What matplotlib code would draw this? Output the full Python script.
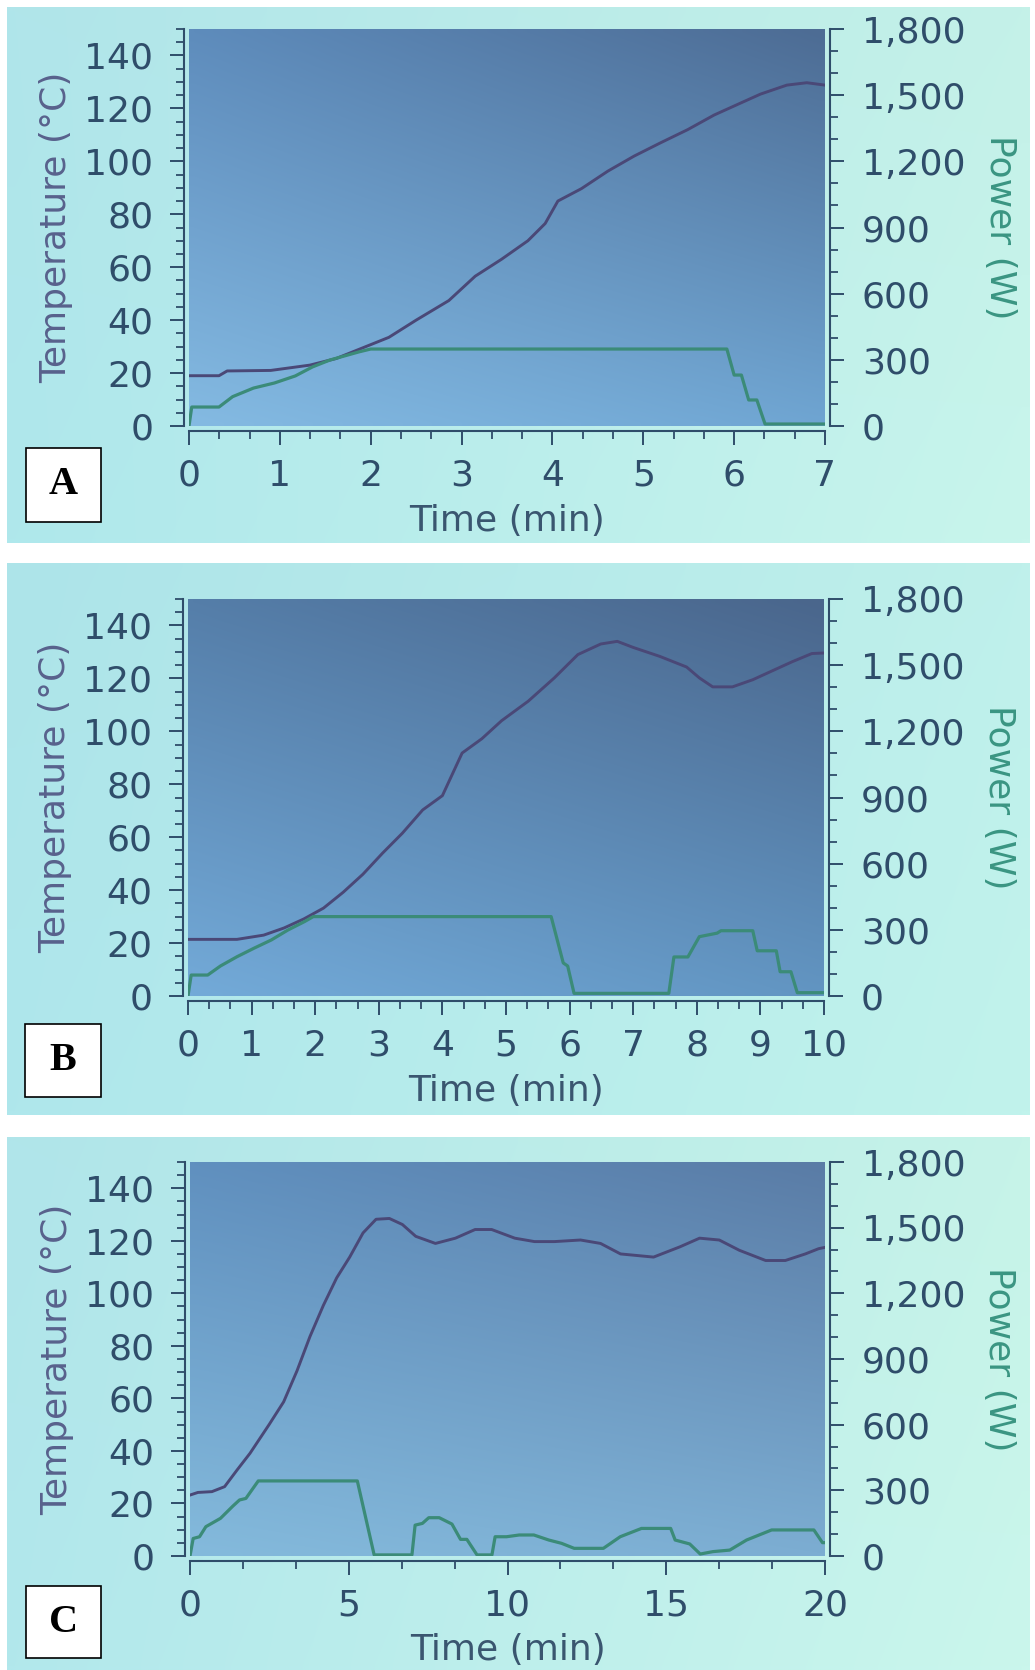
import matplotlib.pyplot as plt
import numpy as np
from matplotlib.colors import to_rgb
from matplotlib.patches import Rectangle
from matplotlib.ticker import MultipleLocator, StrMethodFormatter

# panel A (7 min run)
tA_temp = [0, 0.33, 0.42, 0.9, 1.33, 1.62, 1.91, 2.2, 2.5, 2.86, 3.15, 3.44, 3.73, 3.92, 4.06,
           4.32, 4.61, 4.9, 5.19, 5.49, 5.78, 6.07, 6.29, 6.58, 6.8, 7.0]
tempA = [19.0, 19.0, 20.8, 21, 23, 25.5, 29.5, 33.5, 40, 47.4, 56.6, 63, 70, 76.5, 85,
         89.7, 96.3, 102, 107, 112, 117.5, 122, 125.4, 128.8, 129.7, 128.8]
tA_pow = [0, 0.03, 0.33, 0.48, 0.71, 0.94, 1.17, 1.36, 1.55, 1.87, 2.0, 5.92, 6.0, 6.08,
          6.16, 6.25, 6.34, 7.0]
powA = [0, 86, 86, 133, 172, 195, 227, 268, 299, 336, 349, 349, 231, 231, 118, 118, 9, 9]

# panel B (10 min run)
tB_temp = [0, 0.77, 1.19, 1.51, 1.82, 2.13, 2.44, 2.75, 3.06, 3.37, 3.69, 4.0, 4.31, 4.62,
           4.93, 5.35, 5.76, 6.13, 6.49, 6.75, 7.0, 7.42, 7.84, 8.04, 8.25, 8.56, 8.88,
           9.19, 9.5, 9.81, 10.0]
tempB = [21.4, 21.4, 23.0, 25.7, 29.1, 33.2, 39.2, 46, 54, 61.5, 70.3, 75.7, 91.8, 97.2,
         104, 111.4, 120.2, 129, 133, 134, 131.7, 128.3, 124.3, 120.2, 116.8, 116.8, 119.5,
         122.9, 126.3, 129.4, 129.6]
tB_pow = [0, 0.05, 0.31, 0.51, 0.77, 1.04, 1.31, 1.57, 1.83, 1.97, 5.71, 5.9, 5.97, 6.07,
          7.56, 7.64, 7.86, 8.04, 8.32, 8.38, 8.88, 8.95, 9.25, 9.31, 9.48, 9.58, 10.0]
powB = [0, 95, 95, 136, 178, 217, 254, 299, 337, 360, 360, 150, 136, 12, 12, 177, 177, 269,
        285, 296, 296, 205, 205, 110, 110, 15, 15]

# panel C (20 min run)
tC_temp = [0, 0.25, 0.69, 1.09, 1.48, 1.89, 2.49, 2.95, 3.37, 3.78, 4.2, 4.62, 5.03, 5.45,
           5.86, 6.28, 6.69, 7.11, 7.73, 8.36, 8.98, 9.5, 10.23, 10.85, 11.48, 12.3, 12.93,
           13.56, 14.6, 15.43, 16.05, 16.67, 17.3, 18.13, 18.75, 19.38, 19.8, 20]
tempC = [23.2, 24.2, 24.5, 26.4, 32.7, 39.1, 50, 58.7, 70.5, 83.6, 95.4, 105.9, 113.8, 123,
         128.2, 128.5, 126.2, 121.7, 119, 121, 124.3, 124.3, 121, 119.7, 119.7, 120.3, 119,
         115, 113.8, 117.7, 121, 120.3, 116.4, 112.5, 112.5, 115, 117, 117.5]
tC_pow = [0, 0.1, 0.3, 0.5, 0.96, 1.35, 1.56, 1.76, 2.15, 5.27, 5.8, 6.99, 7.09, 7.32, 7.52,
          7.85, 8.25, 8.52, 8.72, 9.04, 9.51, 9.61, 9.97, 10.37, 10.83, 11.3, 11.7, 12.1,
          13.02, 13.55, 14.22, 15.14, 15.28, 15.74, 16.07, 16.47, 17.0, 17.53, 18.32, 19.65,
          19.92, 20]
powC = [0, 80, 88, 134, 172, 228, 256, 263, 343, 343, 5, 5, 141, 149, 175, 175, 146, 76, 76,
        5, 5, 88, 88, 96, 96, 73, 58, 35, 35, 88, 126, 126, 73, 55, 9, 20, 27, 73, 119, 119,
        61, 61]

letters = ['A', 'B', 'C']
x_max = [7, 10, 20]
x_major = [1, 1, 5]

W, H = 1035, 1670
fig = plt.figure(figsize=(W / 100, H / 100), dpi=100)
fig.patch.set_facecolor('white')

# pixel boxes (left, top, right, bottom)
photo_px = [(7, 7, 1030, 543), (7, 563, 1030, 1115), (7, 1137, 1030, 1670)]
plot_px = [(189, 29, 825, 426), (188, 599, 824, 996), (190, 1162, 825, 1556)]
box_px = [(26, 448, 101, 522), (25, 1024, 101, 1097), (26, 1586, 101, 1658)]

photo_cols = [('#b0e5ea', '#c4f1e8', '#afe8ec', '#c8f5ec'),
              ('#ade4e9', '#bff0eb', '#afe7ec', '#c1f3ec'),
              ('#b0e5ea', '#c6f3e8', '#b2e8ec', '#caf6ec')]
plot_cols = [('#5e8cbc', '#4d6c94', '#84bae2', '#6fa5d2'),
             ('#557ea9', '#4a668c', '#73aad8', '#6295c2'),
             ('#6090bf', '#5a7ca6', '#84badc', '#7cadd2')]

temp_col = '#4a4877'
pow_col = '#3b8b78'
tick_col = '#2f4d6a'


def frac(r):
    l, t, rr, b = r
    return [l / W, 1 - b / H, (rr - l) / W, (b - t) / H]


def gradient(tl, tr, bl, br, n=64):
    u = np.linspace(0, 1, n)[None, :, None]
    v = np.linspace(0, 1, n)[:, None, None]
    tl, tr, bl, br = [np.array(to_rgb(c))[None, None, :] for c in (tl, tr, bl, br)]
    top = tl * (1 - u) + tr * u
    bot = bl * (1 - u) + br * u
    return top * (1 - v) + bot * v


data = [(tA_temp, tempA, tA_pow, powA), (tB_temp, tempB, tB_pow, powB),
        (tC_temp, tempC, tC_pow, powC)]

for i in range(3):
    # photographed screen background
    bg = fig.add_axes(frac(photo_px[i]), zorder=0)
    bg.imshow(gradient(*photo_cols[i]), aspect='auto', interpolation='bilinear')
    bg.axis('off')

    pbg = fig.add_axes(frac(plot_px[i]), zorder=1)
    pbg.imshow(gradient(*plot_cols[i]), aspect='auto', interpolation='bilinear')
    pbg.axis('off')

    ax = fig.add_axes(frac(plot_px[i]), zorder=2)
    ax.patch.set_visible(False)
    ax2 = ax.twinx()
    ax2.set_zorder(3)
    ax2.patch.set_visible(False)

    tt, temp, tp, pw = data[i]
    ax.plot(tt, temp, color=temp_col, lw=2.1)
    ax2.plot(tp, pw, color=pow_col, lw=2.3)

    ax.set_xlim(0, x_max[i])
    ax.set_ylim(0, 150)
    ax2.set_ylim(0, 1800)

    ax.xaxis.set_major_locator(MultipleLocator(x_major[i]))
    ax.xaxis.set_minor_locator(MultipleLocator(x_major[i] / 3))
    ax.yaxis.set_major_locator(MultipleLocator(20))
    ax.yaxis.set_minor_locator(MultipleLocator(5))
    ax2.yaxis.set_major_locator(MultipleLocator(300))
    ax2.yaxis.set_minor_locator(MultipleLocator(100))
    ax2.yaxis.set_major_formatter(StrMethodFormatter('{x:,.0f}'))

    for s in ['top', 'right']:
        ax.spines[s].set_visible(False)
    for s in ['top', 'left', 'bottom']:
        ax2.spines[s].set_visible(False)
    ax.spines['left'].set_position(('outward', 3.6))
    ax.spines['bottom'].set_position(('outward', 3.6))
    ax2.spines['right'].set_position(('outward', 3.6))
    for sp in [ax.spines['left'], ax.spines['bottom'], ax2.spines['right']]:
        sp.set_color(tick_col)
        sp.set_linewidth(1.5)

    ax.tick_params(axis='both', which='major', length=10, width=1.4, colors=tick_col,
                   labelsize=26)
    ax.tick_params(axis='both', which='minor', length=6, width=1.3, colors=tick_col)
    ax.tick_params(axis='y', which='major', pad=12)
    ax.tick_params(axis='x', which='major', pad=10)
    ax2.tick_params(axis='y', which='major', length=10, width=1.4, colors=tick_col,
                    labelsize=26, pad=13)
    ax2.tick_params(axis='y', which='minor', length=6, width=1.3, colors=tick_col)

    ax.set_ylabel('Temperature (°C)', fontsize=26, color='#58618c')
    ax.yaxis.set_label_coords(-0.182, 0.5)
    ax2.set_ylabel('Power (W)', fontsize=26, color='#3a9582', rotation=270, va='bottom')
    ax2.yaxis.set_label_coords(1.248, 0.5)
    ax.set_xlabel('Time (min)', fontsize=26, color='#3a5670')
    ax.xaxis.set_label_coords(0.5, -0.196)

    # panel letter box
    l, t, r, b = box_px[i]
    fig.add_artist(Rectangle((l / W, 1 - b / H), (r - l) / W, (b - t) / H,
                             transform=fig.transFigure, facecolor='white',
                             edgecolor='black', lw=1.2, zorder=5))
    fig.text((l + r) / 2 / W, 1 - (t + b) / 2 / H, letters[i], ha='center', va='center',
             fontsize=29, fontweight='bold', family='Liberation Serif', zorder=6)

fig.savefig('out.png', dpi=100)
